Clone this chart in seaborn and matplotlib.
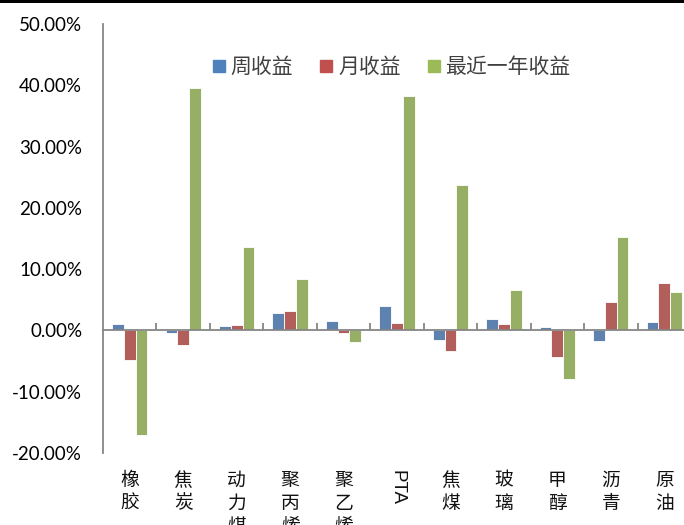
import matplotlib
matplotlib.use('Agg')
import matplotlib.pyplot as plt
import seaborn as sns
import pandas as pd
from matplotlib.lines import Line2D
from matplotlib.patches import Rectangle
from matplotlib.ticker import FuncFormatter

categories = ['橡胶', '焦炭', '动力煤', '聚丙烯', '聚乙烯', 'PTA', '焦煤', '玻璃', '甲醇', '沥青', '原油']
series_names = ['周收益', '月收益', '最近一年收益']
weekly = [1.1, -0.4, 0.75, 2.9, 1.6, 4.0, -1.5, 1.8, 0.6, -1.8, 1.4]
monthly = [-4.85, -2.3, 0.85, 3.1, -0.4, 1.2, -3.4, 1.1, -4.3, 4.6, 7.8]
yearly = [-17.0, 39.6, 13.6, 8.4, -1.9, 38.2, 23.8, 6.6, -7.9, 15.3, 6.2]
colors = ['#4F81BD', '#C0504D', '#9BBB59']
y_ticks = [-20, -10, 0, 10, 20, 30, 40, 50]

rows = []
for name, vals in zip(series_names, [weekly, monthly, yearly]):
    for c, v in zip(categories, vals):
        rows.append({'品种': c, '收益': v, '类型': name})
df = pd.DataFrame(rows)

sns.set_style('white')
plt.rcParams['font.family'] = ['Noto Sans CJK SC', 'DejaVu Sans']

gray = '#868686'
fig = plt.figure(figsize=(6.84, 5.25), dpi=100)
ax = fig.add_axes([0.1506, 0.1371, 0.8596, 0.8171])
sns.barplot(data=df, x='品种', y='收益', hue='类型', order=categories,
            hue_order=series_names, palette=colors, width=0.66, ax=ax,
            edgecolor='#ffffff', linewidth=0.6, legend=False, errorbar=None)

ax.set_xlim(-0.5, 10.5)
ax.set_ylim(-20, 50)
ax.set_xlabel('')
ax.set_ylabel('')
for s in ['top', 'right']:
    ax.spines[s].set_visible(False)
ax.spines['bottom'].set_position(('data', 0))
ax.spines['bottom'].set_color(gray)
ax.spines['bottom'].set_linewidth(1.3)
ax.spines['left'].set_color(gray)
ax.spines['left'].set_linewidth(1.3)

ax.set_xticks(range(len(categories)))
ax.set_xticklabels([])
ax.tick_params(axis='x', which='major', length=0)
ax.set_xticks([i + 0.5 for i in range(len(categories))], minor=True)
ax.tick_params(axis='x', which='minor', direction='in', length=5, color=gray, width=1.3)

ax.set_yticks(y_ticks)
ax.yaxis.set_major_formatter(FuncFormatter(lambda v, p: f'{v:.2f}%'))
ax.tick_params(axis='y', direction='in', length=5, color=gray, width=1.3,
               labelsize=13.5, pad=15, labelfontfamily='Lato', labelcolor='#000000')

ax2 = ax.twiny()
ax2.set_xlim(ax.get_xlim())
ax2.set_xticks(range(len(categories)))
ax2.set_xticklabels([c if c == 'PTA' else '\n'.join(c) for c in categories])
ax2.xaxis.set_ticks_position('bottom')
ax2.tick_params(axis='x', length=0, pad=12, labelsize=13.5, labelcolor='#111111')
for s in ax2.spines.values():
    s.set_visible(False)
for lbl in ax2.get_xticklabels():
    lbl.set_linespacing(1.12)
    if lbl.get_text() == 'PTA':
        lbl.set_rotation(-90)
        lbl.set_fontfamily('Liberation Sans')

handles = [Line2D([0], [0], marker='s', linestyle='none', markersize=9,
                  markerfacecolor=c, markeredgecolor=c) for c in colors]
leg = ax.legend(handles, series_names, loc='center', bbox_to_anchor=(0.491, 0.90),
                ncol=3, frameon=False, fontsize=15, handlelength=0.6,
                handletextpad=0.25, columnspacing=1.3, borderpad=0)
for t in leg.get_texts():
    t.set_color('#404040')

fig.add_artist(Rectangle((0, 1 - 3 / 525), 1, 3 / 525, transform=fig.transFigure,
                         facecolor='black', edgecolor='none'))

fig.savefig('out.png', dpi=100)
